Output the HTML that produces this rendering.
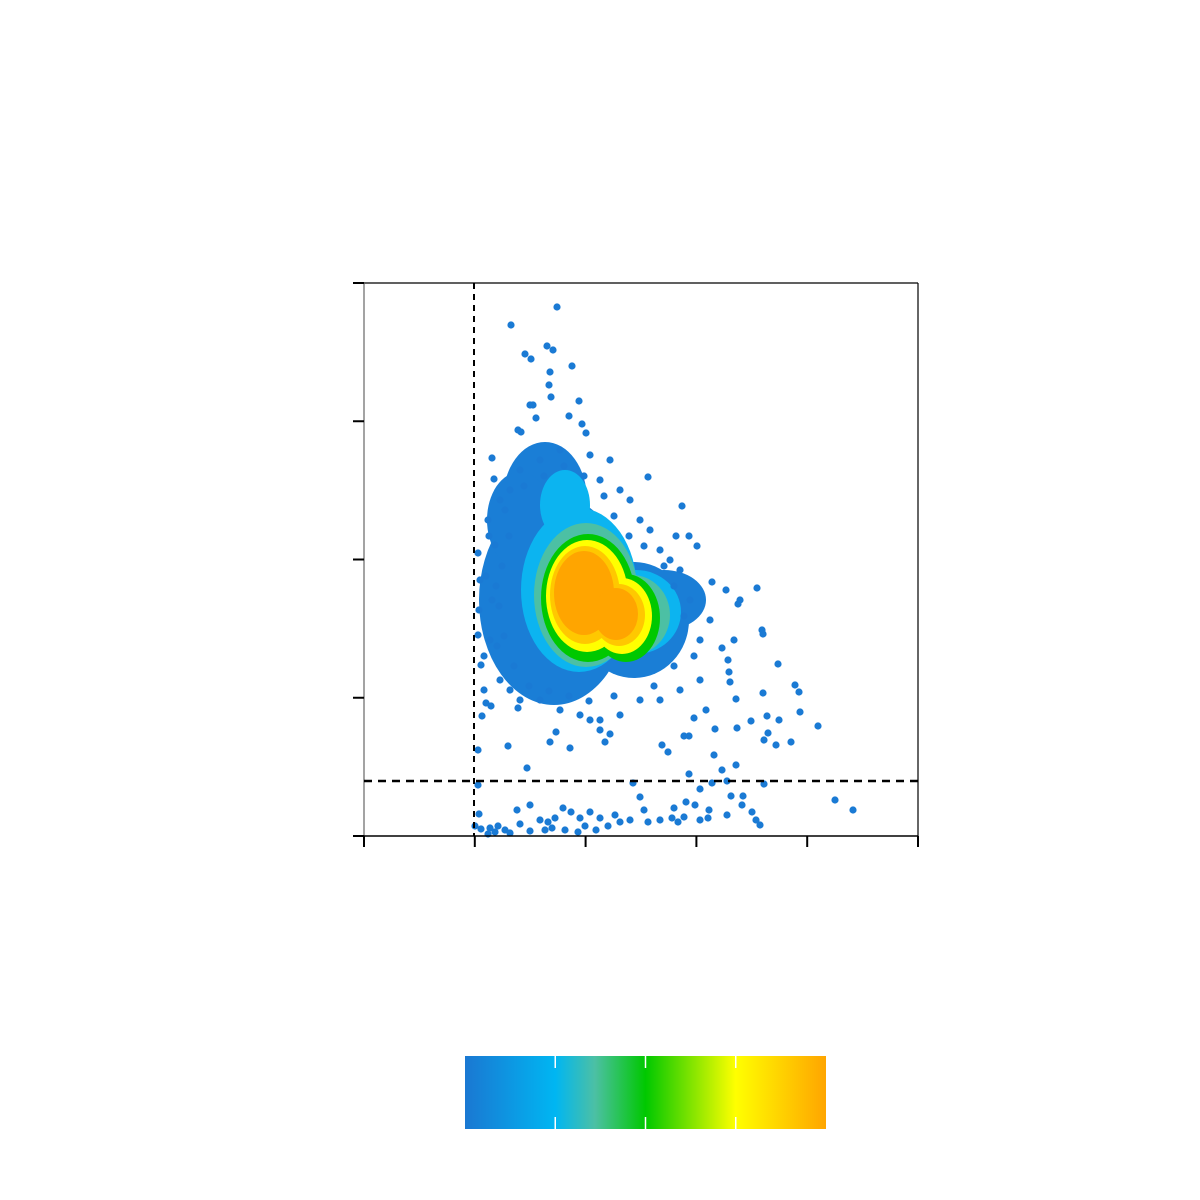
<!DOCTYPE html>
<html><head><meta charset="utf-8"><style>
html,body{margin:0;padding:0;background:#fff;width:1200px;height:1200px;overflow:hidden}
svg{display:block}
</style></head><body>
<svg id="chart" width="1200" height="1200" xmlns="http://www.w3.org/2000/svg">
<defs>
<linearGradient id="cbar" x1="0" x2="1" y1="0" y2="0">
<stop offset="0" stop-color="#1a78d2"/><stop offset="0.25" stop-color="#00b6f2"/>
<stop offset="0.36" stop-color="#4cc0a4"/><stop offset="0.5" stop-color="#00c800"/>
<stop offset="0.75" stop-color="#ffff00"/><stop offset="1" stop-color="#ffa500"/>
</linearGradient>
</defs>
<g id="blobs"></g>
<g id="points"></g>
<g id="axes"></g>
<rect x="465" y="1056" width="361" height="73" fill="url(#cbar)"/>
<g id="cbticks"></g>
</svg>
<script>
const xTicks=[0,110.8,221.6,332.4,443.2,554];
const yTicks=[0,138.25,276.5,414.75,553];
const xGate=[110];
const yGate=[55];
const colorTicks=[0.25,0.5,0.75];
const outliers=[[193,529],[147,511],[183,490],[189,486],[161,482],[167,477],[208,470],[186,464],[185,451],[187,439],[215,435],[166,431],[169,431],[205,420],[172,418],[218,412],[154,406],[157,404],[222,403],[128,378],[284,359],[318,330],[130,357],[333,290],[325,300],[312,300],[348,254],[362,246],[393,248],[376,236],[374,232],[398,206],[399,202],[370,196],[358,188],[364,176],[365,164],[366,154],[414,172],[431,151],[435,144],[372,137],[436,124],[399,143],[454,110],[403,120],[415,116],[427,94],[404,103],[400,96],[412,91],[387,115],[373,108],[351,107],[350,81],[358,66],[372,71],[325,62],[363,55],[348,53],[336,47],[367,40],[379,40],[400,52],[378,31],[388,24],[392,16],[396,11],[471,36],[489,26],[269,53],[163,68],[144,90],[114,86],[122,133],[127,130],[154,128],[186,94],[192,104],[206,88],[241,94],[246,102],[298,91],[304,84],[320,100],[325,100],[330,118],[342,126],[276,39],[280,26],[310,28],[322,34],[331,31],[345,26],[114,51],[115,22],[111,10],[117,7],[126,8],[134,10],[141,6],[153,26],[156,12],[166,31],[176,16],[184,14],[191,18],[199,28],[207,24],[216,18],[226,24],[236,18],[251,21],[266,16],[284,14],[296,16],[308,18],[320,19],[336,16],[344,18],[124,2],[131,4],[146,3],[166,5],[181,6],[188,8],[201,6],[221,10],[244,10],[256,14],[363,21],[314,14],[232,6],[214,4],[114,283],[116,256],[115,226],[114,201],[117,171],[120,146],[126,196],[128,236],[124,316],[136,336],[131,291],[136,156],[146,146],[156,136],[176,136],[196,126],[216,121],[236,116],[256,121],[276,136],[296,136],[316,146],[336,156],[336,196],[346,216],[326,236],[316,266],[296,286],[276,316],[256,346],[246,376],[226,381],[236,356],[196,386],[176,376],[156,366],[146,346],[141,326],[266,336],[286,306],[306,276],[236,106],[226,116],[118,120],[120,180],[122,260],[125,300],[132,250],[140,200],[150,170],[165,150],[185,145],[205,140],[225,135],[250,140],[290,150],[310,170],[330,180],[320,220],[310,250],[300,270],[280,290],[265,300],[250,320],[240,340],[220,360],[200,370],[180,360],[160,350],[145,300],[138,270],[135,230],[133,190]];
// density layers: [cx, cy, rx, ry, level]
const blobCx=[190,181,270,300,156,215,272,201,222,268,224,262,223,258,221,255,220,252];
const blobCy=[236,336,216,236,316,246,224,331,241,221,238,218,240,220,241,221,243,222];
const blobRx=[75,42,55,42,33,58,45,25,52,38,47,34,41,30,35,26,30,22];
const blobRy=[105,58,58,30,48,82,42,35,72,40,64,44,56,38,49,31,42,26];
const blobLevel=[0,0,0,0,0,1,1,1,2,2,3,3,4,4,5,5,6,6];
const levelColors=['#1a7ed6','#0cb4f0','#4cc0a4','#00c800','#ffff00','#ffc800','#ffa500'];

const X0=364,X1=918,Y0=836,Y1=283;
const xs=v=>X0+(v-0)*(X1-X0)/554;
const ys=v=>Y0-(v-0)*(Y0-Y1)/553;
const NS='http://www.w3.org/2000/svg';
function mk(tag,attrs,parent){const e=document.createElementNS(NS,tag);for(const k in attrs)e.setAttribute(k,attrs[k]);parent.appendChild(e);return e;}

const gb=document.getElementById('blobs');
for(let i=0;i<blobCx.length;i++){
  const e=mk('ellipse',{cx:xs(blobCx[i]),cy:ys(blobCy[i]),rx:blobRx[i]*(X1-X0)/554,ry:blobRy[i]*(Y0-Y1)/553,fill:levelColors[blobLevel[i]]},gb);
  
  
}
const gp=document.getElementById('points');
outliers.forEach(p=>{
  const c=mk('circle',{cx:xs(p[0]),cy:ys(p[1]),r:3.6,fill:'#1a7ad4'},gp);
  
  
});
const ga=document.getElementById('axes');
mk('line',{x1:X0,y1:Y1,x2:X1,y2:Y1,stroke:'#000','stroke-width':1.2},ga);
mk('line',{x1:X1,y1:Y1,x2:X1,y2:Y0,stroke:'#000','stroke-width':1.2},ga);
mk('line',{x1:X0,y1:Y1,x2:X0,y2:Y0,stroke:'#666','stroke-width':1.2},ga);
mk('line',{x1:X0,y1:Y0,x2:X1,y2:Y0,stroke:'#000','stroke-width':1.5},ga);
xTicks.forEach(t=>{const l=mk('line',{x1:xs(t),x2:xs(t),y1:Y0,y2:Y0+11,stroke:'#000','stroke-width':2},ga);
  
  });
yTicks.forEach(t=>{const l=mk('line',{x1:X0-11,x2:X0,y1:ys(t),y2:ys(t),stroke:'#000','stroke-width':2},ga);
  
  });
xGate.forEach(g=>{const l=mk('line',{x1:xs(g),x2:xs(g),y1:Y1,y2:Y0,stroke:'#000','stroke-width':2,'stroke-dasharray':'6,5'},ga);
  
  });
yGate.forEach(g=>{const l=mk('line',{x1:X0,x2:X1,y1:ys(g),y2:ys(g),stroke:'#000','stroke-width':2.5,'stroke-dasharray':'8,6'},ga);
  
  });
const gc=document.getElementById('cbticks');
colorTicks.forEach(t=>{const x=465+t*361;const l=mk('line',{x1:x,x2:x,y1:1056,y2:1068,stroke:'#fff','stroke-width':1.5},gc);
  
  
  const l2=mk('line',{x1:x,x2:x,y1:1117,y2:1129,stroke:'#fff','stroke-width':1.5},gc);
  
  });
</script>
</body></html>
